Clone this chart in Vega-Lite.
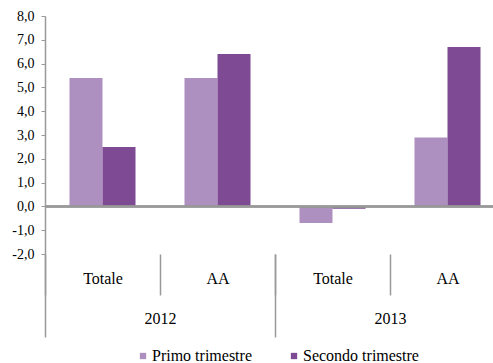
{
  "$schema": "https://vega.github.io/schema/vega-lite/v6.json",
  "width": 460,
  "height": 238,
  "autosize": {"type": "none"},
  "padding": {"left": 45, "top": 16, "right": -12, "bottom": 109},
  "config": {
    "view": {"stroke": null},
    "font": "Times New Roman, Times, Liberation Serif, serif",
    "axis": {"labelFont": "Times New Roman, Times, Liberation Serif, serif", "labelColor": "#000000"},
    "legend": {"labelFont": "Times New Roman, Times, Liberation Serif, serif"}
  },
  "data": {"values": [
    {"year": "2012", "sub": "Totale", "cat": "2012|Totale", "series": "Primo trimestre", "value": 5.4},
    {"year": "2012", "sub": "Totale", "cat": "2012|Totale", "series": "Secondo trimestre", "value": 2.5},
    {"year": "2012", "sub": "AA", "cat": "2012|AA", "series": "Primo trimestre", "value": 5.4},
    {"year": "2012", "sub": "AA", "cat": "2012|AA", "series": "Secondo trimestre", "value": 6.4},
    {"year": "2013", "sub": "Totale", "cat": "2013|Totale", "series": "Primo trimestre", "value": -0.7},
    {"year": "2013", "sub": "Totale", "cat": "2013|Totale", "series": "Secondo trimestre", "value": -0.1},
    {"year": "2013", "sub": "AA", "cat": "2013|AA", "series": "Primo trimestre", "value": 2.9},
    {"year": "2013", "sub": "AA", "cat": "2013|AA", "series": "Secondo trimestre", "value": 6.7}
  ]},
  "layer": [
    {
      "mark": {"type": "bar"},
      "encoding": {
        "x": {
          "field": "cat", "type": "nominal",
          "sort": ["2012|Totale", "2012|AA", "2013|Totale", "2013|AA"],
          "scale": {"paddingInner": 0, "paddingOuter": 0},
          "axis": {
            "orient": "bottom", "title": null, "domain": false, "tickBand": "extent",
            "tickSize": 41, "tickColor": "#999999", "tickWidth": 1.5,
            "labelExpr": "split(datum.label, '|')[1]", "labelAngle": 0,
            "labelFontSize": 16, "labelPadding": -17, "labelBaseline": "middle"
          }
        },
        "xOffset": {
          "field": "series", "type": "nominal",
          "sort": ["Primo trimestre", "Secondo trimestre"],
          "scale": {"paddingInner": 0, "paddingOuter": 0.742}
        },
        "y": {
          "field": "value", "type": "quantitative",
          "scale": {"domain": [-2, 8], "nice": false, "zero": false},
          "axis": {
            "title": null, "grid": false, "tickCount": 10, "labelOverlap": false,
            "labelExpr": "replace(replace(format(datum.value, '.1f'), '.', ','), '\u2212', '-')",
            "domainColor": "#999999", "domainWidth": 1.5, "tickColor": "#999999", "tickSize": 4,
            "labelFontSize": 14, "labelPadding": 7
          }
        },
        "color": {
          "field": "series", "type": "nominal",
          "scale": {"domain": ["Primo trimestre", "Secondo trimestre"], "range": ["#AD8FC0", "#7D4A93"]},
          "legend": {
            "title": null, "orient": "none", "direction": "horizontal", "legendX": 90, "legendY": 332,
            "symbolType": "square", "symbolSize": 40, "symbolStrokeWidth": 0,
            "labelFontSize": 16, "labelColor": "#000000", "labelOffset": 1, "columnPadding": 34, "padding": 0
          }
        }
      }
    },
    {
      "mark": {"type": "rule", "color": "#999999", "strokeWidth": 1.5},
      "encoding": {"y": {"datum": 0}}
    },
    {
      "mark": {"type": "bar", "opacity": 0},
      "encoding": {
        "x": {
          "field": "year", "type": "nominal",
          "scale": {"paddingInner": 0, "paddingOuter": 0},
          "axis": {
            "orient": "bottom", "title": null, "domain": false, "tickBand": "extent",
            "tickSize": 83, "tickColor": "#999999", "tickWidth": 1.5, "labelAngle": 0,
            "labelFontSize": 16, "labelPadding": -19, "labelBaseline": "middle"
          }
        }
      }
    }
  ],
  "resolve": {"scale": {"x": "independent"}, "axis": {"x": "independent"}}
}
